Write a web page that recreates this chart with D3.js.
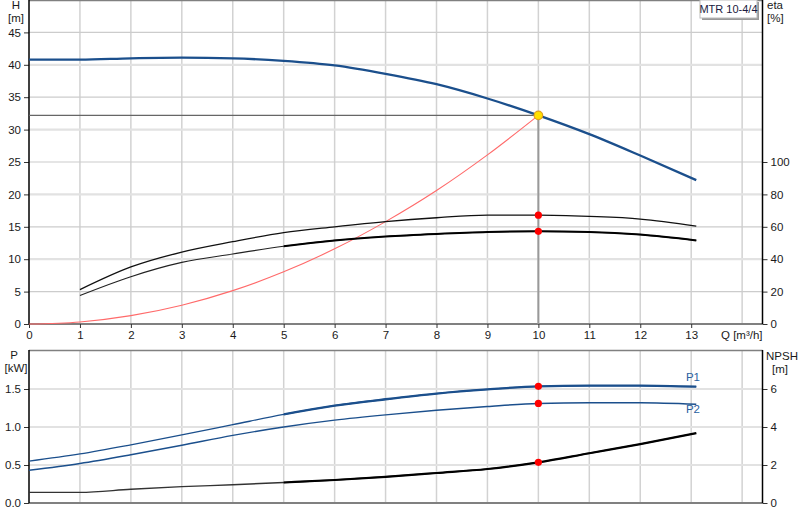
<!DOCTYPE html>
<html><head><meta charset="utf-8">
<script src="https://cdn.jsdelivr.net/npm/d3@7"></script>
<style>body{margin:0;background:#fff}svg{display:block;font-family:"Liberation Sans",Arial,sans-serif}</style>
</head><body><svg id="c" width="800" height="520"></svg>
<script>
// ---- data ----
const qTicks = [0,1,2,3,4,5,6,7,8,9,10,11,12,13];
const hTicks = [0,5,10,15,20,25,30,35,40,45];
const etaTicks = [0,20,40,60,80,100];
const pTicks = [0,0.5,1.0,1.5];
const npshTicks = [0,2,4,6];

const qH = [0,1,2,3,4,5,6,7,8,9,10,11,12,13.1];
const head = [40.8,40.8,41.0,41.1,41.0,40.6,39.9,38.6,37.0,34.8,32.2,29.3,26.0,22.2];

const qSys = [0,1,2,3,4,5,6,7,8,9,10];
const sysHead = [0,0.32,1.29,2.9,5.15,8.05,11.6,15.8,20.6,26.1,32.2];

const qEta = [1,2,3,4,5,6,7,8,9,10,11,12,13.1];
const etaUpper = [21.2,35.2,44.4,50.8,56.4,60,63.2,65.6,67.2,67.2,66.4,64.8,60.4];
const etaLower = [17.6,29.2,38,43.2,48,51.6,54,55.6,56.8,57.2,56.8,55.2,51.6];

const qP = [0,1,2,3,4,5,6,7,8,9,10,11,12,13.1];
const p1 = [0.55,0.645,0.765,0.895,1.03,1.165,1.28,1.365,1.44,1.495,1.535,1.545,1.545,1.53];
const p2 = [0.43,0.52,0.635,0.76,0.89,1.0,1.09,1.16,1.22,1.27,1.31,1.32,1.32,1.30];
const npsh = [0.56,0.56,0.72,0.86,0.96,1.08,1.21,1.38,1.58,1.79,2.14,2.62,3.1,3.68];

const dutyQ = 10, dutyH = 32.2;
const dutyEta = [67.2, 57.2];
const dutyP = [1.535, 1.31];
const dutyNpsh = 2.14;
const rangeStartQ = 5;
const pumpName = "MTR 10-4/4";

// ---- scales ----
const svg = d3.select("#c");
const x = d3.scaleLinear().domain([0,14.4]).range([29,762.5]);
const yH = d3.scaleLinear().domain([0,50]).range([324,0]);
const yEta = d3.scaleLinear().domain([0,200]).range([324,0]);
const yP = d3.scaleLinear().domain([0,2]).range([503,351]);
const yN = d3.scaleLinear().domain([0,8]).range([503,351]);

const tickCol = "#1a1a1a";

svg.append("defs").append("clipPath").attr("id","opr")
  .append("rect").attr("x",x(rangeStartQ)).attr("y",0).attr("width",800).attr("height",520);

// grids
function vgrid(y0,y1){
  svg.append("g").selectAll("line").data(d3.range(1,15)).join("line")
    .attr("x1",d=>x(d)).attr("x2",d=>x(d)).attr("y1",y0).attr("y2",y1)
    .attr("stroke","#d2d2d2").attr("stroke-width",1.5);
}
vgrid(0,324); vgrid(351,503);
svg.append("g").selectAll("line").data(hTicks.filter(d=>d>0)).join("line")
  .attr("x1",29).attr("x2",762.5).attr("y1",d=>yH(d)).attr("y2",d=>yH(d))
  .attr("stroke",d=>d%10===0?"#e2e2e2":"#cccccc").attr("stroke-width",d=>d%10===0?2.2:1.2);
svg.append("g").selectAll("line").data(pTicks.filter(d=>d>0)).join("line")
  .attr("x1",29).attr("x2",762.5).attr("y1",d=>yP(d)).attr("y2",d=>yP(d))
  .attr("stroke","#e2e2e2").attr("stroke-width",2.2);

// frame lines
svg.append("line").attr("x1",29).attr("x2",762.5).attr("y1",0.5).attr("y2",0.5).attr("stroke","#808080").attr("stroke-width",1.5);
svg.append("line").attr("x1",29).attr("x2",762.5).attr("y1",350.5).attr("y2",350.5).attr("stroke","#808080").attr("stroke-width",1.5);
svg.append("line").attr("x1",29).attr("x2",762.5).attr("y1",324).attr("y2",324).attr("stroke","#808080").attr("stroke-width",2);
svg.append("line").attr("x1",29).attr("x2",762.5).attr("y1",503).attr("y2",503).attr("stroke","#808080").attr("stroke-width",2);

// axes
function styleAxis(g){
  g.select(".domain").remove();
  g.selectAll(".tick line").attr("stroke","#333");
  g.selectAll(".tick text").attr("fill",tickCol).style("font-size","11.5px").style("font-family",'"Liberation Sans",Arial,sans-serif');
}
svg.append("g").attr("transform","translate(29,0)")
  .call(d3.axisLeft(yH).tickValues(hTicks).tickSize(5).tickPadding(3)).call(styleAxis);
svg.append("g").attr("transform","translate(762.5,0)")
  .call(d3.axisRight(yEta).tickValues(etaTicks).tickSize(5).tickPadding(3)).call(styleAxis);
svg.append("g").attr("transform","translate(29,0)")
  .call(d3.axisLeft(yP).tickValues(pTicks).tickFormat(d3.format(".1f")).tickSize(5).tickPadding(3)).call(styleAxis);
svg.append("g").attr("transform","translate(762.5,0)")
  .call(d3.axisRight(yN).tickValues(npshTicks).tickSize(5).tickPadding(3)).call(styleAxis);
svg.append("g").attr("transform","translate(0,324)")
  .call(d3.axisBottom(x).tickValues(qTicks).tickSize(4).tickPadding(3)).call(styleAxis);

// vertical axis lines
svg.append("line").attr("x1",29).attr("x2",29).attr("y1",0).attr("y2",324).attr("stroke","#000").attr("stroke-width",1.5);
svg.append("line").attr("x1",29).attr("x2",29).attr("y1",350).attr("y2",503).attr("stroke","#000").attr("stroke-width",1.5);
svg.append("line").attr("x1",762.5).attr("x2",762.5).attr("y1",0).attr("y2",324).attr("stroke","#000").attr("stroke-width",1.5);
svg.append("line").attr("x1",762.5).attr("x2",762.5).attr("y1",350).attr("y2",503).attr("stroke","#000").attr("stroke-width",1.5);

// axis titles
function txt(t,xx,yy,anchor,col,size){
  svg.append("text").attr("x",xx).attr("y",yy).attr("text-anchor",anchor||"middle")
    .attr("fill",col||tickCol).style("font-size",(size||11.5)+"px").text(t);
}
txt("H",16,9); txt("[m]",16,22);
txt("eta",767,9,"start"); txt("[%]",767,22,"start");
txt("P",14,359); txt("[kW]",16,372);
txt("NPSH",766,360,"start"); txt("[m]",780,373);
txt("Q [m³/h]",721,339,"start");

// legend box
svg.append("rect").attr("x",702).attr("y",2).attr("width",57).attr("height",18).attr("fill","#999");
svg.append("rect").attr("x",700).attr("y",0).attr("width",57).attr("height",18).attr("fill","#fff").attr("stroke","#bbb");
txt(pumpName,728.5,13,"middle","#1a1a40",11);

// duty point lines
svg.append("line").attr("x1",29).attr("x2",x(dutyQ)).attr("y1",yH(dutyH)).attr("y2",yH(dutyH)).attr("stroke","#666").attr("stroke-width",1.2);
svg.append("line").attr("x1",x(dutyQ)).attr("x2",x(dutyQ)).attr("y1",yH(dutyH)).attr("y2",324).attr("stroke","#999").attr("stroke-width",2);

// curves
const curve = d3.curveMonotoneX;
function drawLine(qs,vs,ys,col,w,clip){
  const pts = qs.map((q,i)=>[q,vs[i]]);
  const p = svg.append("path").datum(pts)
    .attr("d",d3.line().x(d=>x(d[0])).y(d=>ys(d[1])).curve(curve))
    .attr("fill","none").attr("stroke",col).attr("stroke-width",w).attr("stroke-linejoin","round");
  if (clip) p.attr("clip-path","url(#opr)");
}
const blue = "#1b4f8c";
drawLine(qSys,sysHead,yH,"#ff6a6a",1.1);
drawLine(qEta,etaUpper,yEta,"#111",1.3);
drawLine(qEta,etaLower,yEta,"#222",1.2);
drawLine(qEta,etaLower,yEta,"#000",2,true);
drawLine(qH,head,yH,blue,2.3);

drawLine(qP,p1,yP,blue,1.3);
drawLine(qP,p1,yP,blue,2.3,true);
drawLine(qP,p2,yP,blue,1.4);
drawLine(qP,npsh,yN,"#333",1.4);
drawLine(qP,npsh,yN,"#000",2.2,true);

txt("P1",693,381,"middle","#2a5f9f",11.5);
txt("P2",693,413,"middle","#2a5f9f",11.5);

// duty markers
const dots = [
  [dutyQ,yEta(dutyEta[0])],[dutyQ,yEta(dutyEta[1])],
  [dutyQ,yP(dutyP[0])],[dutyQ,yP(dutyP[1])],[dutyQ,yN(dutyNpsh)]
];
svg.append("g").selectAll("circle").data(dots).join("circle")
  .attr("cx",d=>x(d[0])).attr("cy",d=>d[1]).attr("r",3.6).attr("fill","#ff0000");
svg.append("circle").attr("cx",x(dutyQ)).attr("cy",yH(dutyH)).attr("r",4.3)
  .attr("fill","#ffe000").attr("stroke","#e0a020").attr("stroke-width",1.2);
</script></body></html>
